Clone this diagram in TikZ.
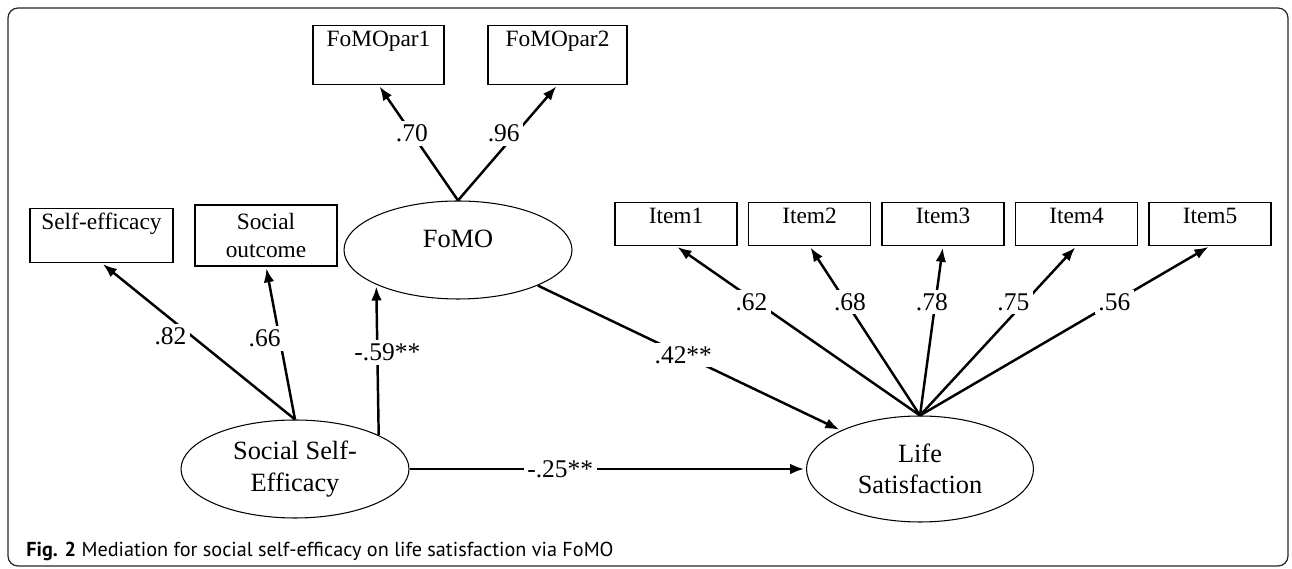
\documentclass[tikz,border=0pt]{standalone}
\usepackage{fontspec}
\setmainfont{Liberation Serif}
\newfontfamily\captionfont{PT Sans}
\usepackage{tikz}
\usetikzlibrary{shapes.geometric}
\usetikzlibrary{arrows.meta}

\begin{document}
\begin{tikzpicture}[-,shorten >=1pt,node distance=2.67cm,
  main node/.style={ellipse, draw, line width=0.6pt, inner sep=0pt, minimum width=4.56cm, minimum height=1.96cm, align=center, font=\fontsize{15}{18}\selectfont},
  box node/.style={rectangle, draw, line width=0.6pt, inner ysep=1.5pt, align=center, font=\fontsize{13.3}{16}\selectfont},
  top text/.style={text height=0.36cm, text depth=#1}]
			\useasboundingbox (0,0) rectangle (25.84,11.38);
			\draw[rounded corners=0.2cm, line width=0.7pt, black!85] (0.16,0.06) rectangle (25.76,11.22);
			
			% Nodes
			\node[main node, text depth=0.44cm] (1) at (9.16,6.38) {FoMO};
			\node[main node] (2) at (5.90,2.00) {Social Self-\\Efficacy};
			\node[main node, minimum width=4.54cm, minimum height=2.12cm] (3) at (18.40,2.00) {Life\\Satisfaction};
			
			\node[box node, top text=0.714cm, minimum width=2.62cm, anchor=north] (4) at (7.57,10.88) {FoMOpar1};
			\node[box node, top text=0.714cm, minimum width=2.78cm] (5) [right of=4, node distance=3.58cm] {FoMOpar2};
			
			\node[box node, top text=0.614cm, minimum width=2.86cm, anchor=north] (6) at (2.03,7.22) {Self-efficacy};
			\node[box node, minimum width=2.84cm, minimum height=1.22cm] (7) [right of=6, node distance=3.29cm] {Social\\outcome};
			
			\node[box node, top text=0.394cm, minimum width=2.44cm, anchor=north] (8) at (13.52,7.34) {Item1};
			\node[box node, top text=0.394cm, minimum width=2.44cm] (9) [right of=8] {Item2};
			\node[box node, top text=0.394cm, minimum width=2.44cm] (10) [right of=9] {Item3};
			\node[box node, top text=0.394cm, minimum width=2.44cm] (11) [right of=10] {Item4};
			\node[box node, top text=0.394cm, minimum width=2.44cm] (12) [right of=11] {Item5};
			
			\path[->, >={Latex[length=8pt,width=6pt]}, line width=1.4pt,
			  every node/.style={fill=white, inner sep=2pt, font=\fontsize{14.5}{17}\selectfont}]
			(1.north)
			edge node[pos=.58] {.70} (4.south)
			edge node[pos=.58, xshift=-0.24cm] {.96} (5.south)
			
			(2.north)
			edge node[pos=.53, xshift=-0.44cm] {.82} (6.south)
			edge node[pos=.53, xshift=-0.3cm] {.66} (7.south)
			
			(2.22.5) edge node[pos=.55, xshift=0.2cm] {-.59**} (1.203)
			(1.336.6) edge node[pos=.48] {.42**} (3.154.9)
			(2.east) edge node[pos=.38] {-.25**} (3.west)
			
			(3.north)
			edge node[pos=.67, xshift=-0.1cm] {.62} (8.south)
			edge node[pos=.67, xshift=0.08cm] {.68} (9.south)
			edge node[pos=.67, xshift=-0.07cm] {.78} (10.south)
			edge node[pos=.67, xshift=-0.23cm] {.75} (11.south)
			edge node[pos=.67] {.56} (12.south);
			
			\node[anchor=base west, inner sep=0pt, font=\captionfont\fontsize{11.5}{13}\selectfont] (13) at (0.52,0.24) {\textbf{Fig. 2} Mediation for social self-efficacy on life satisfaction via FoMO};
			
		\end{tikzpicture}
\end{document}
